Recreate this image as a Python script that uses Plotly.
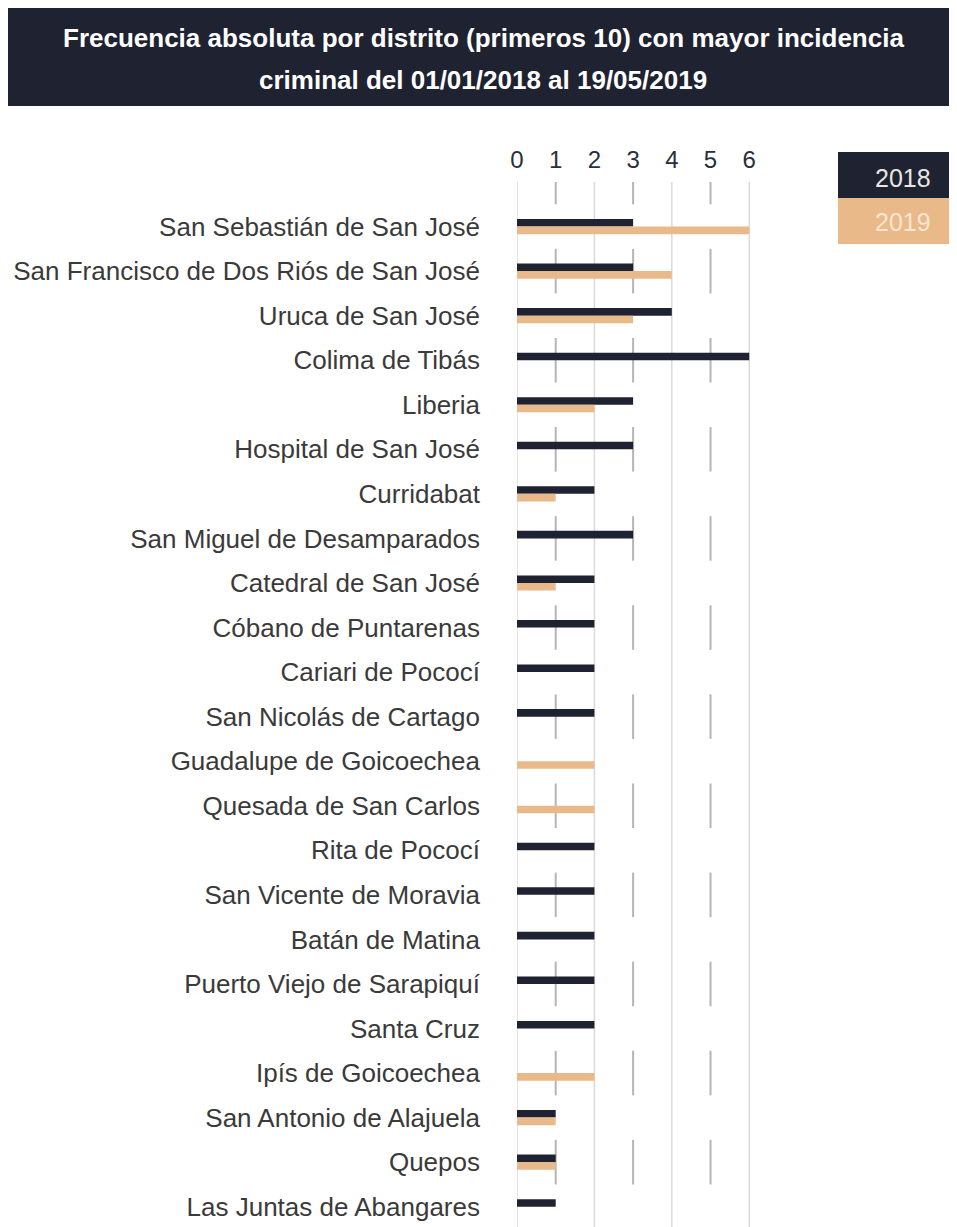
import plotly.graph_objects as go

# ---- data ----
districts = [
    "San Sebastián de San José",
    "San Francisco de Dos Riós de San José",
    "Uruca de San José",
    "Colima de Tibás",
    "Liberia",
    "Hospital de San José",
    "Curridabat",
    "San Miguel de Desamparados",
    "Catedral de San José",
    "Cóbano de Puntarenas",
    "Cariari de Pococí",
    "San Nicolás de Cartago",
    "Guadalupe de Goicoechea",
    "Quesada de San Carlos",
    "Rita de Pococí",
    "San Vicente de Moravia",
    "Batán de Matina",
    "Puerto Viejo de Sarapiquí",
    "Santa Cruz",
    "Ipís de Goicoechea",
    "San Antonio de Alajuela",
    "Quepos",
    "Las Juntas de Abangares",
]
values_2018 = [3, 3, 4, 6, 3, 3, 2, 3, 2, 2, 2, 2, 0, 0, 2, 2, 2, 2, 2, 0, 1, 1, 1]
values_2019 = [6, 4, 3, 0, 2, 0, 1, 0, 1, 0, 0, 0, 2, 2, 0, 0, 0, 0, 0, 2, 1, 1, 0]
x_ticks = [0, 1, 2, 3, 4, 5, 6]
series_names = ["2018", "2019"]

title_lines = [
    "Frecuencia absoluta por distrito (primeros 10) con mayor incidencia",
    "criminal del 01/01/2018 al 19/05/2019",
]

# ---- style ----
NAVY = "#1f2230"
TAN = "#e9b98a"
FONT = "Liberation Sans, Arial, Helvetica, sans-serif"

W, H = 957, 1227
OFF = 8  # page body margin
L = 517 - OFF
R = W - (750 - OFF)
T = 182 - OFF
B = H - (1229 - OFF)
plot_w = W - L - R
plot_h = H - T - B


def px_x(px):
    return (px - OFF - L) / plot_w


def px_y(py):
    return (H - B - (py - OFF)) / plot_h


fig = go.Figure()
fig.add_trace(go.Bar(
    y=districts, x=values_2018, orientation="h", name=series_names[0],
    marker=dict(color=NAVY, line=dict(width=0)),
))
fig.add_trace(go.Bar(
    y=districts, x=values_2019, orientation="h", name=series_names[1],
    marker=dict(color=TAN, line=dict(width=0)),
))

n = len(districts)
shapes = []
# solid light gridlines at even ticks
for v in x_ticks:
    if v % 2 == 0:
        shapes.append(dict(type="line", xref="x", yref="y", x0=v, x1=v,
                           y0=-1, y1=n - 0.5, layer="below",
                           line=dict(color="#dadada", width=1.5)))
# dashed darker segments at odd ticks, on alternate rows
for v in x_ticks:
    if v % 2 == 1:
        for i in range(-1, n, 2):
            shapes.append(dict(type="line", xref="x", yref="y", x0=v, x1=v,
                               y0=max(i - 0.5, -1), y1=min(i + 0.5, n - 0.5),
                               layer="below",
                               line=dict(color="#b5b5b5", width=2)))
# title box
shapes.append(dict(type="rect", xref="paper", yref="paper",
                   x0=px_x(8), x1=px_x(970), y0=px_y(106), y1=px_y(5),
                   fillcolor=NAVY, line=dict(width=0), layer="above"))
# legend boxes
shapes.append(dict(type="rect", xref="paper", yref="paper",
                   x0=px_x(838), x1=px_x(970), y0=px_y(198), y1=px_y(152),
                   fillcolor=NAVY, line=dict(width=0)))
shapes.append(dict(type="rect", xref="paper", yref="paper",
                   x0=px_x(838), x1=px_x(970), y0=px_y(244), y1=px_y(198),
                   fillcolor=TAN, line=dict(width=0)))

annotations = [
    dict(xref="paper", yref="paper", x=px_x(483), y=px_y(38),
         text="<b>" + title_lines[0] + "</b>", showarrow=False,
         xanchor="center", yanchor="middle",
         font=dict(family=FONT, size=26, color="#ffffff")),
    dict(xref="paper", yref="paper", x=px_x(483), y=px_y(80),
         text="<b>" + title_lines[1] + "</b>", showarrow=False,
         xanchor="center", yanchor="middle",
         font=dict(family=FONT, size=26, color="#ffffff")),
    dict(xref="paper", yref="paper", x=px_x(903), y=px_y(178),
         text=series_names[0], showarrow=False,
         xanchor="center", yanchor="middle",
         font=dict(family=FONT, size=25, color="#e6e6e6")),
    dict(xref="paper", yref="paper", x=px_x(903), y=px_y(222),
         text=series_names[1], showarrow=False,
         xanchor="center", yanchor="middle",
         font=dict(family=FONT, size=25, color="#f8e6d3")),
]

fig.update_layout(
    width=W, height=H,
    margin=dict(l=L, r=R, t=T, b=B, pad=0),
    paper_bgcolor="white", plot_bgcolor="white",
    barmode="group", bargap=0.66, bargroupgap=0,
    showlegend=False,
    shapes=shapes, annotations=annotations,
    font=dict(family=FONT),
)
fig.update_xaxes(
    side="top", range=[0, 6.02], tickvals=x_ticks,
    showgrid=False, zeroline=False, showline=False,
    ticks="", ticklabelstandoff=8,
    tickfont=dict(family=FONT, size=24, color="#2b2e3b"),
)
fig.update_yaxes(
    type="category", range=[n - 0.5, -1],
    showgrid=False, zeroline=False, showline=False,
    ticks="", ticklabelstandoff=36,
    tickfont=dict(family=FONT, size=26, color="#3a3a3a"),
)

fig.write_html("out.html")
